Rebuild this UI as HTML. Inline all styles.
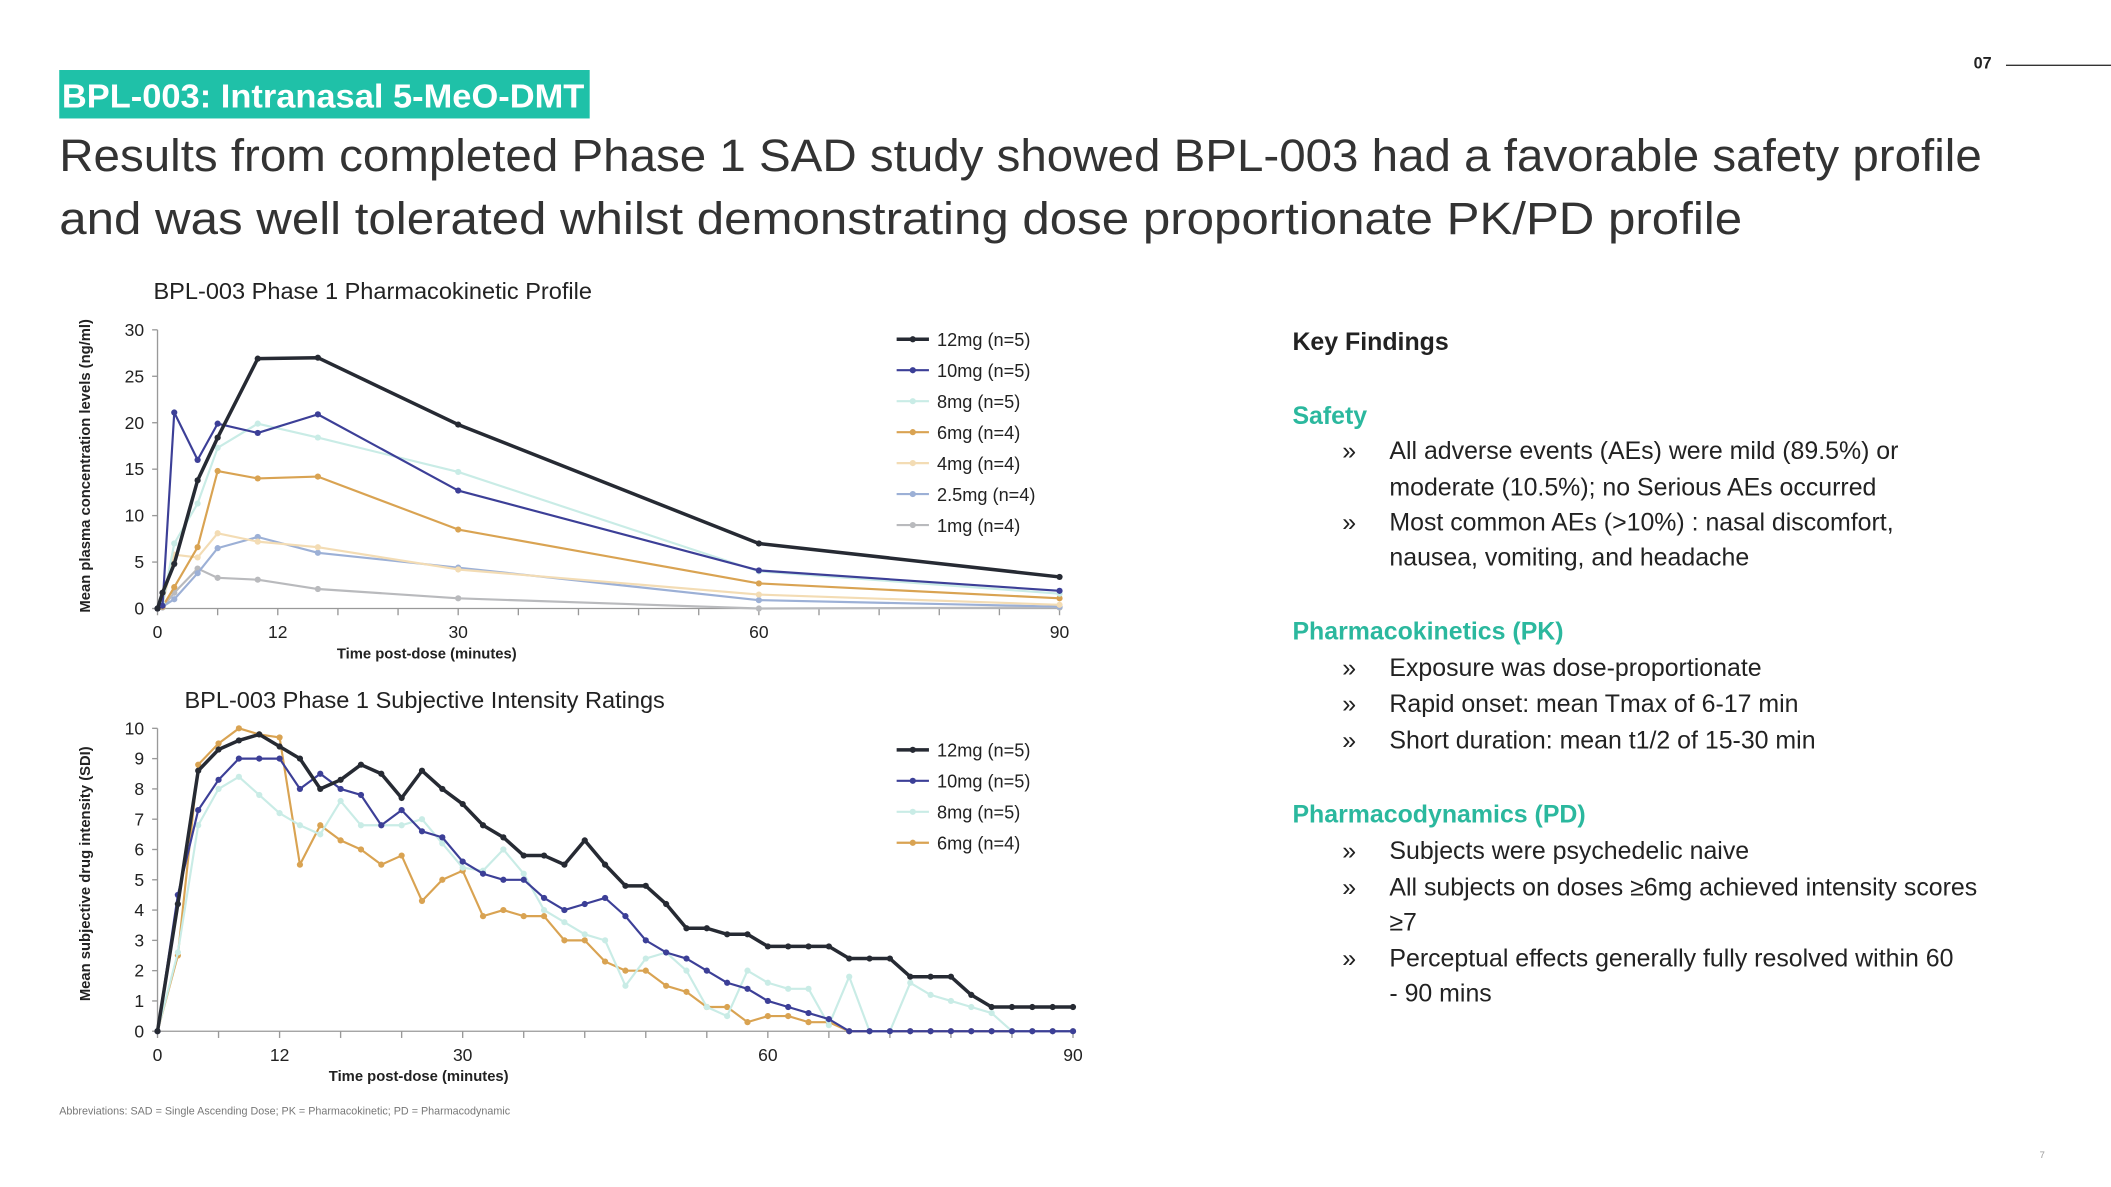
<!DOCTYPE html>
<html><head><meta charset="utf-8"><style>
html,body{margin:0;padding:0;background:#fff;}
svg{display:block;font-family:"Liberation Sans",sans-serif;}
</style></head><body>
<svg id="s" width="2111" height="1187" viewBox="0 0 1568 881.7" preserveAspectRatio="none">
<rect x="44" y="52" width="394" height="36" fill="#1fc1a8"/>
<text x="46" y="80" font-size="25" font-weight="bold" fill="#fff" textLength="388" lengthAdjust="spacingAndGlyphs">BPL-003: Intranasal 5-MeO-DMT</text>
<text x="44" y="127" font-size="34" fill="#333" textLength="1428" lengthAdjust="spacingAndGlyphs">Results from completed Phase 1 SAD study showed BPL-003 had a favorable safety profile</text>
<text x="44" y="174" font-size="34" fill="#333" textLength="1250" lengthAdjust="spacingAndGlyphs">and was well tolerated whilst demonstrating dose proportionate PK/PD profile</text>
<text x="1466" y="51" font-size="12" font-weight="bold" fill="#222">07</text>
<line x1="1490" y1="48.5" x2="1568" y2="48.5" stroke="#333" stroke-width="1"/>
<text x="1515" y="860" font-size="7" fill="#999">7</text>
<text x="44" y="828" font-size="8" fill="#777">Abbreviations: SAD = Single Ascending Dose; PK = Pharmacokinetic; PD = Pharmacodynamic</text>

<text x="114" y="222" font-size="17.5" fill="#222">BPL-003 Phase 1 Pharmacokinetic  Profile</text>
<text x="137" y="526" font-size="17.5" fill="#222">BPL-003 Phase 1 Subjective  Intensity Ratings</text>
<g id="pk"></g>
<g id="pd"></g>

<g font-size="18.5" fill="#222">
<text x="960" y="260" font-weight="bold">Key Findings</text>
<text x="960" y="315" font-weight="bold" fill="#2bb89e">Safety</text>
<text x="997" y="341">»</text><text x="1032" y="341">All adverse events (AEs) were mild (89.5%) or</text>
<text x="1032" y="368">moderate (10.5%); no Serious AEs occurred</text>
<text x="997" y="394">»</text><text x="1032" y="394">Most common AEs (&gt;10%) : nasal discomfort,</text>
<text x="1032" y="420">nausea, vomiting, and headache</text>
<text x="960" y="475" font-weight="bold" fill="#2bb89e">Pharmacokinetics (PK)</text>
<text x="997" y="502">»</text><text x="1032" y="502">Exposure was dose-proportionate</text>
<text x="997" y="529">»</text><text x="1032" y="529">Rapid onset: mean Tmax of 6-17 min</text>
<text x="997" y="556">»</text><text x="1032" y="556">Short duration: mean t1/2 of 15-30 min</text>
<text x="960" y="611" font-weight="bold" fill="#2bb89e">Pharmacodynamics (PD)</text>
<text x="997" y="638">»</text><text x="1032" y="638">Subjects were psychedelic naive</text>
<text x="997" y="665">»</text><text x="1032" y="665">All subjects on doses ≥6mg achieved intensity scores</text>
<text x="1032" y="691">≥7</text>
<text x="997" y="718">»</text><text x="1032" y="718">Perceptual effects generally fully resolved within 60</text>
<text x="1032" y="744">- 90 mins</text>
</g>
</svg>
<script>
const NS="http://www.w3.org/2000/svg";
// PK data
const pkTimes=[0,0.5,1.67,4,6,10,16,30,60,90];
const pkLabels=["12mg (n=5)","10mg (n=5)","8mg (n=5)","6mg (n=4)","4mg (n=4)","2.5mg (n=4)","1mg (n=4)"];
const pk12=[0,1.7,4.8,13.8,18.4,26.9,27.0,19.8,7.0,3.4];
const pk10=[0,0.3,21.1,16.0,19.9,18.9,20.9,12.7,4.1,1.9];
const pk8=[0,0.5,7.0,11.3,17.3,19.9,18.4,14.7,4.0,1.6];
const pk6=[0,0.2,2.3,6.6,14.8,14.0,14.2,8.5,2.7,1.1];
const pk4=[0,0.5,5.8,5.5,8.1,7.2,6.6,4.2,1.5,0.4];
const pk25=[0,0.2,1.0,3.8,6.5,7.7,6.0,4.4,0.9,0.2];
const pk1=[0,0.1,1.7,4.3,3.3,3.1,2.1,1.1,0,0.1];
const pkYTicks=[0,5,10,15,20,25,30];
const xTickLabels=[0,12,30,60,90];
// PD data (every 2 min, 0..90)
const pdLabels=["12mg (n=5)","10mg (n=5)","8mg (n=5)","6mg (n=4)"];
const pd12=[0,4.2,8.6,9.3,9.6,9.8,9.4,9.0,8.0,8.3,8.8,8.5,7.7,8.6,8.0,7.5,6.8,6.4,5.8,5.8,5.5,6.3,5.5,4.8,4.8,4.2,3.4,3.4,3.2,3.2,2.8,2.8,2.8,2.8,2.4,2.4,2.4,1.8,1.8,1.8,1.2,0.8,0.8,0.8,0.8,0.8];
const pd10=[0,4.5,7.3,8.3,9.0,9.0,9.0,8.0,8.5,8.0,7.8,6.8,7.3,6.6,6.4,5.6,5.2,5.0,5.0,4.4,4.0,4.2,4.4,3.8,3.0,2.6,2.4,2.0,1.6,1.4,1.0,0.8,0.6,0.4,0,0,0,0,0,0,0,0,0,0,0,0];
const pd8=[0,2.6,6.8,8.0,8.4,7.8,7.2,6.8,6.5,7.6,6.8,6.8,6.8,7.0,6.2,5.4,5.3,6.0,5.2,4.0,3.6,3.2,3.0,1.5,2.4,2.6,2.0,0.8,0.5,2.0,1.6,1.4,1.4,0.2,1.8,0,0,1.6,1.2,1.0,0.8,0.6,0,0,0,0];
const pd6=[0,2.5,8.8,9.5,10.0,9.8,9.7,5.5,6.8,6.3,6.0,5.5,5.8,4.3,5.0,5.3,3.8,4.0,3.8,3.8,3.0,3.0,2.3,2.0,2.0,1.5,1.3,0.8,0.8,0.3,0.5,0.5,0.3,0.3,0,0,0,0,0,0,0,0,0,0,0,0];
const pdYTicks=[0,1,2,3,4,5,6,7,8,9,10];
const pdTimes=pd12.map((_,i)=>i*2);

const pkColors=["#262a33","#3c3f97","#c9ece6","#d9a352","#f3dcb4","#9cb0d6","#b9babd"];
const pdColors=["#262a33","#3c3f97","#c9ece6","#d9a352"];

function el(tag,attrs,parent,txt){const e=document.createElementNS(NS,tag);for(const k in attrs)e.setAttribute(k,attrs[k]);if(txt!==undefined)e.textContent=txt;parent.appendChild(e);return e;}

function chart(g,cfg){
  const xs=t=>cfg.x0+(cfg.x1-cfg.x0)*t/90;
  const ys=v=>cfg.y0-(cfg.y0-cfg.y1)*v/cfg.ymax;
  const ax=el('line',{x1:cfg.x0,y1:cfg.y0,x2:cfg.x1,y2:cfg.y0,stroke:'#999','stroke-width':1},g);
  
  
  const ay=el('line',{x1:cfg.x0,y1:cfg.y0,x2:cfg.x0,y2:cfg.y1,stroke:'#999','stroke-width':1},g);
  
  
  for(let t=0;t<=90;t+=6){el('line',{x1:xs(t),y1:cfg.y0,x2:xs(t),y2:cfg.y0+5,stroke:'#999'},g);}
  cfg.yticks.forEach(v=>{
    el('line',{x1:cfg.x0-4,y1:ys(v),x2:cfg.x0,y2:ys(v),stroke:'#999'},g);
    const t=el('text',{x:cfg.x0-10,y:ys(v)+4.5,'font-size':13,'text-anchor':'end',fill:'#222'},g,String(v));
    
    
  });
  xTickLabels.forEach(v=>{
    const t=el('text',{x:xs(v),y:cfg.y0+22,'font-size':13,'text-anchor':'middle',fill:'#222'},g,String(v));
    
    
  });
  const xt=el('text',{x:cfg.xtx,y:cfg.y0+37,'font-size':11,'font-weight':'bold','text-anchor':'middle',fill:'#222'},g,'Time post-dose (minutes)');
  
  
  const yt=el('text',{x:0,y:0,'font-size':11,'font-weight':'bold','text-anchor':'middle',fill:'#222',transform:`translate(${cfg.ytx},${cfg.yty}) rotate(-90)`},g,cfg.ytitle);
  
  
  for(let i=cfg.series.length-1;i>=0;i--){
    const d=cfg.series[i];const c=cfg.colors[i];
    const w=i===0?2.6:1.6;
    const p=el('polyline',{points:d.map((v,j)=>xs(cfg.times[j])+','+ys(v)).join(' '),fill:'none',stroke:c,'stroke-width':w,'stroke-linejoin':'round'},g);
    
    
    d.forEach((v,j)=>{
      const m=el('circle',{cx:xs(cfg.times[j]),cy:ys(v),r:2.3,fill:c},g);
      
      
    });
  }
  cfg.labels.forEach((lab,i)=>{
    const y=cfg.ly+i*23;
    const lg=el('g',{},g);
    
    
    el('line',{x1:666,y1:y,x2:690,y2:y,stroke:cfg.colors[i],'stroke-width':i===0?2.6:1.6},lg);
    el('circle',{cx:678,cy:y,r:2.3,fill:cfg.colors[i]},lg);
    el('text',{x:696,y:y+5,'font-size':13.5,fill:'#222'},lg,lab);
  });
}
chart(document.getElementById('pk'),{x0:117,x1:787,y0:452,y1:245,ymax:30,yticks:pkYTicks,times:pkTimes,
  series:[pk12,pk10,pk8,pk6,pk4,pk25,pk1],colors:pkColors,labels:pkLabels,ly:252,xtx:317,ytx:67,yty:346,
  ytitle:'Mean plasma concentration levels (ng/ml)'});
chart(document.getElementById('pd'),{x0:117,x1:797,y0:766,y1:541,ymax:10,yticks:pdYTicks,times:pdTimes,
  series:[pd12,pd10,pd8,pd6],colors:pdColors,labels:pdLabels,ly:557,xtx:311,ytx:67,yty:649,
  ytitle:'Mean subjective drug intensity (SDI)'});
</script>
</body></html>
